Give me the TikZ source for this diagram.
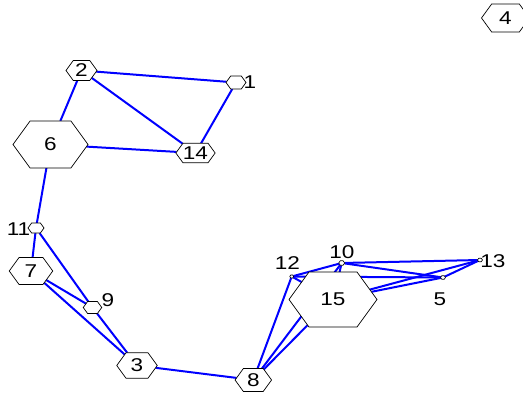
\documentclass[tikz,border=0pt]{standalone}
\usepackage{fontspec}
\setmainfont{Liberation Sans}
\usepackage{tikz}
\usetikzlibrary{
    shapes.symbols,
    backgrounds
}
\definecolor{edgeblue}{RGB}{0, 0, 255}
\definecolor{hexframe}{RGB}{0, 0, 0}
\newcommand{\wide}[1]{\scalebox{1.22}[1]{#1}}
\tikzstyle{vertex} = [
    signal,
    signal to=east and west,
    signal pointer angle=108,
    draw=hexframe,
    line width=0.7pt,
    fill=white,
    inner sep=0pt,
    outer sep=0pt,
    font=\fontsize{18.5}{18.5}\selectfont
]
\tikzstyle{dot} = [
    vertex,
    minimum width=5pt,
    minimum height=3.5pt,
    line width=0.6pt
]
\tikzstyle{tag} = [
    inner sep=0pt,
    font=\fontsize{18.5}{18.5}\selectfont
]
\tikzstyle{link} = [
    draw=edgeblue,
    line width=2pt
]

\begin{document}
\begin{tikzpicture}[x=1pt, y=-1pt]
    \useasboundingbox (0,0) rectangle (523,396);

    % Upper group
    \node[vertex, minimum width=20pt, minimum height=13pt] (n1) at (236,82.5) {};
    \node[vertex, minimum width=31pt, minimum height=20pt] (n2) at (81.5,70.5) {\wide{2}};
    \node[vertex, minimum width=75pt, minimum height=47pt] (n6) at (50.5,144.5) {\wide{6}};
    \node[vertex, minimum width=31pt, minimum height=19.5pt] (n14) at (195.5,153) {\wide{14}};

    % Isolated vertex
    \node[vertex, minimum width=48pt, minimum height=28pt] (n4) at (505.5,18) {\wide{4}};

    % Left chain
    \node[vertex, minimum width=16pt, minimum height=10pt] (n11) at (36,228) {};
    \node[vertex, minimum width=43.5pt, minimum height=27pt] (n7) at (31,271) {\wide{7}};
    \node[vertex, minimum width=18.5pt, minimum height=12pt] (n9) at (92.5,307.5) {};
    \node[vertex, minimum width=40.5pt, minimum height=25.5pt] (n3) at (137,365.5) {\wide{3}};
    \node[vertex, minimum width=36.5pt, minimum height=23pt] (n8) at (253.3,380) {\wide{8}};

    % Right cluster
    \node[dot, minimum width=4pt, minimum height=3pt] (n12) at (291.7,276.5) {};
    \node[dot, minimum width=6pt, minimum height=4.5pt] (n10) at (341.7,263) {};
    \node[dot] (n13) at (480,260) {};
    \node[dot] (n5) at (443,277.5) {};
    \node[vertex, minimum width=88pt, minimum height=55pt] (n15) at (333,299.5) {\wide{15}};

    % Outside labels
    \node[tag] (t1) at (250,82.5) {\wide{1}};
    \node[tag] (t11) at (18.5,229.5) {\wide{11}};
    \node[tag] (t9) at (108,300) {\wide{9}};
    \node[tag] (t12) at (287.5,263) {\wide{12}};
    \node[tag] (t10) at (342,252) {\wide{10}};
    \node[tag] (t13) at (493,261.5) {\wide{13}};
    \node[tag] (t5) at (440,299) {\wide{5}};

    % Edges
    \begin{scope}[on background layer]
        \draw[link] (n2) -- (n1);
        \draw[link] (n2) -- (n14);
        \draw[link] (n2) -- (n6);
        \draw[link] (n1) -- (n14);
        \draw[link] (n6) -- (n14);
        \draw[link] (n6) -- (n11);
        \draw[link] (n11) -- (n7);
        \draw[link] (n11) -- (n9);
        \draw[link] (n7) -- (n9);
        \draw[link] (n7) -- (n3);
        \draw[link] (n9) -- (n3);
        \draw[link] (n3) -- (n8);
        \draw[link] (n8) -- (n12);
        \draw[link] (n8) -- (n10);
        \draw[link] (n8) -- (n15);
        \draw[link] (n12) -- (n10);
        \draw[link] (n12) -- (n15);
        \draw[link] (n12) -- (n5);
        \draw[link] (n10) -- (n13);
        \draw[link] (n10) -- (n5);
        \draw[link] (n10) -- (n15);
        \draw[link] (n13) -- (n5);
        \draw[link] (n13) -- (n15);
        \draw[link] (n15) -- (n5);
    \end{scope}

\end{tikzpicture}
\end{document}
